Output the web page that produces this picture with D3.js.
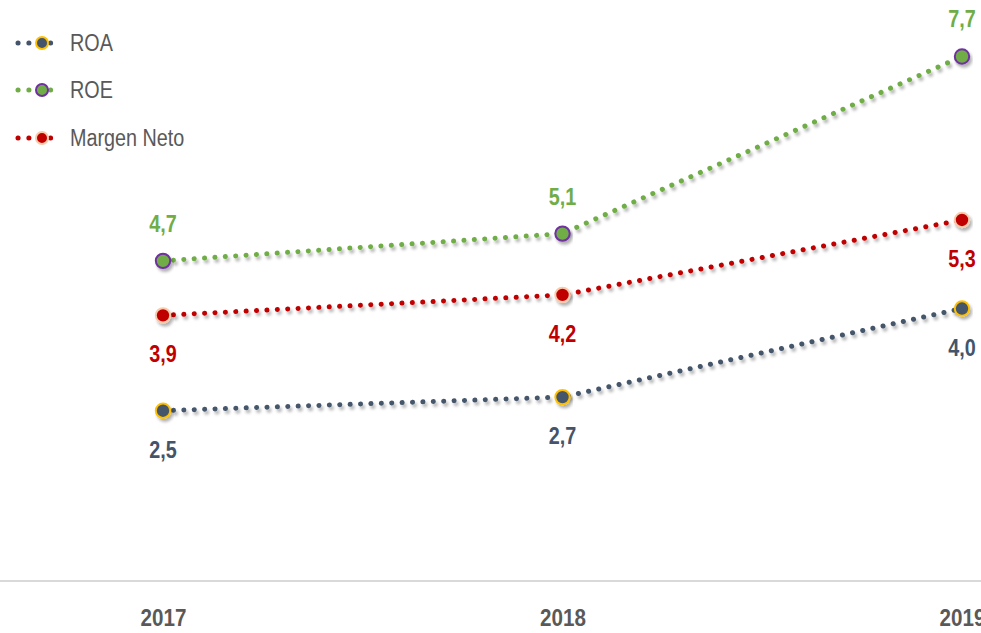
<!DOCTYPE html>
<html lang="es">
<head>
<meta charset="UTF-8">
<title>ROA, ROE y Margen Neto</title>
<script src="https://d3js.org/d3.v7.min.js"></script>
<style>
    html, body { margin: 0; padding: 0; background: #fff; }
    svg { display: block; }
    text { font-family: "Liberation Sans Narrow", "Liberation Sans", Arial, sans-serif; }
    .lbl { font-weight: bold; font-size: 23px; }
    .tick text { font-weight: bold; font-size: 24px; fill: #595959; }
    .legend text { font-size: 23px; fill: #595959; }
</style>
</head>
<body>
<div id="chart"></div>
<script>
    const years = ["2017", "2018", "2019"];
    const roa = [2.5, 2.7, 4.0];
    const roe = [4.7, 5.1, 7.7];
    const margenNeto = [3.9, 4.2, 5.3];

    const width = 981, height = 633;
    const squeeze = 0.86; // the original font is a condensed one

    const series = [
        { name: "ROA", values: roa, line: "#44546A", fill: "#44546A", ring: "#FFC000", pos: ["below", "below", "below"] },
        { name: "ROE", values: roe, line: "#70AD47", fill: "#70AD47", ring: "#7030A0", pos: ["above", "above", "above"] },
        { name: "Margen Neto", values: margenNeto, line: "#C00000", fill: "#C00000", ring: "#F8CBAD", pos: ["below", "below", "below"] }
    ];

    const svg = d3.select("#chart").append("svg")
        .attr("width", width)
        .attr("height", height);

    svg.append("defs").append("filter")
        .attr("id", "shadow")
        .attr("x", "-20%").attr("y", "-50%")
        .attr("width", "140%").attr("height", "250%")
        .append("feDropShadow")
        .attr("dx", 2).attr("dy", 3)
        .attr("stdDeviation", 1.6)
        .attr("flood-color", "#000")
        .attr("flood-opacity", 0.3);

    const x = d3.scalePoint().domain(years).range([163, 962]);
    const y = d3.scaleLinear().domain([0, 8.5]).range([581, 2]);

    // baseline
    svg.append("line")
        .attr("x1", 0).attr("x2", width)
        .attr("y1", y(0)).attr("y2", y(0))
        .attr("stroke", "#D9D9D9")
        .attr("stroke-width", 2);

    const xAxis = svg.append("g")
        .attr("transform", `translate(0,${y(0)})`)
        .call(d3.axisBottom(x).tickSize(0).tickPadding(28));
    xAxis.select(".domain").remove();
    xAxis.selectAll(".tick text")
        .attr("transform", `scale(${squeeze},1)`);

    const line = d3.line()
        .x((d, i) => x(years[i]))
        .y(d => y(d));

    series.forEach(s => {
        const g = svg.append("g");
        g.append("path")
            .datum(s.values)
            .attr("d", line)
            .attr("fill", "none")
            .attr("stroke", s.line)
            .attr("stroke-width", 5)
            .attr("stroke-linecap", "round")
            .attr("stroke-dasharray", "0.1 10.3")
            .attr("filter", "url(#shadow)");

        g.selectAll("circle")
            .data(s.values)
            .enter().append("circle")
            .attr("cx", (d, i) => x(years[i]))
            .attr("cy", d => y(d))
            .attr("r", 7.2)
            .attr("fill", s.fill)
            .attr("stroke", s.ring)
            .attr("stroke-width", 2)
            .attr("filter", "url(#shadow)");

        g.selectAll("text")
            .data(s.values)
            .enter().append("text")
            .attr("class", "lbl")
            .attr("transform", (d, i) => {
                const ty = y(d) + (s.pos[i] === "above" ? -29 : 47);
                return `translate(${x(years[i])},${ty}) scale(${squeeze},1)`;
            })
            .attr("text-anchor", "middle")
            .attr("fill", s.line)
            .text(d => d.toFixed(1).replace(".", ","));
    });

    // legend
    const legend = svg.append("g").attr("class", "legend");
    const legendY = [43, 90, 138];
    series.forEach((s, i) => {
        const g = legend.append("g").attr("transform", `translate(0,${legendY[i]})`);
        g.append("line")
            .attr("x1", 18).attr("x2", 61)
            .attr("y1", 0).attr("y2", 0)
            .attr("stroke", s.line)
            .attr("stroke-width", 5)
            .attr("stroke-linecap", "round")
            .attr("stroke-dasharray", "0.1 10.75");
        g.append("circle")
            .attr("cx", 42).attr("cy", 0)
            .attr("r", 6)
            .attr("fill", s.fill)
            .attr("stroke", s.ring)
            .attr("stroke-width", 2);
        g.append("text")
            .attr("transform", `translate(70,8) scale(${squeeze},1)`)
            .text(s.name);
    });
</script>
</body>
</html>
